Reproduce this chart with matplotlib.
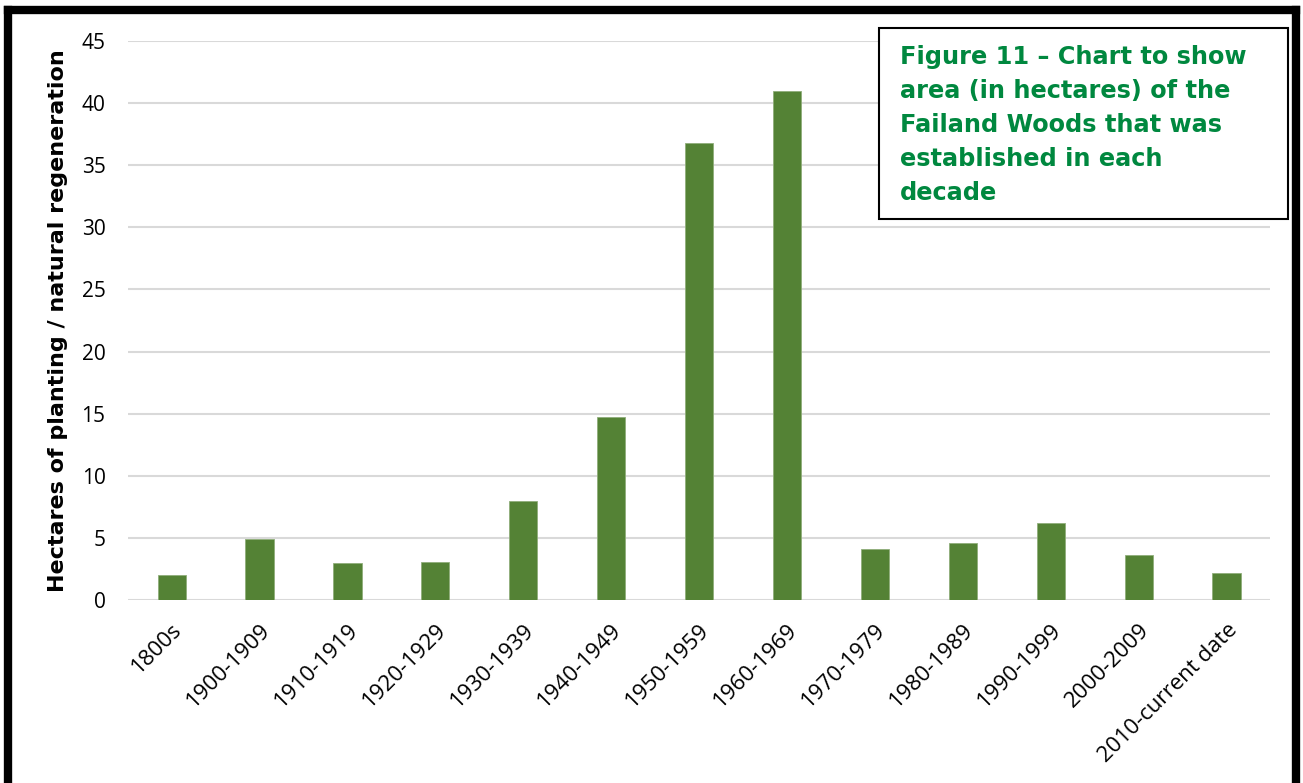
import matplotlib.pyplot as plt
from matplotlib.lines import Line2D
from matplotlib.patches import Rectangle

# データ
decades = ['1800s', '1900-1909', '1910-1919', '1920-1929', '1930-1939', '1940-1949',
           '1950-1959', '1960-1969', '1970-1979', '1980-1989', '1990-1999',
           '2000-2009', '2010-current date']
hectares = [2.0, 4.9, 3.0, 3.05, 8.0, 14.7, 36.8, 41.0, 4.1, 4.55, 6.2, 3.65, 2.2]
y_ticks = [0, 5, 10, 15, 20, 25, 30, 35, 40, 45]

BAR_COLOR = '#548235'
TITLE_COLOR = '#00883f'
GRID_COLOR = '#d9d9d9'

fig = plt.figure(figsize=(13.03, 7.83), dpi=100)
ax = fig.add_axes([0.098, 0.2337, 0.877, 0.7139])

x = range(len(decades))
ax.bar(x, hectares, width=0.32, color=BAR_COLOR, edgecolor='#8fae7a', linewidth=0.6, zorder=3)

ax.set_xlim(-0.5, len(decades) - 0.5)
ax.set_ylim(0, 45)
ax.set_yticks(y_ticks)
ax.set_yticklabels([str(t) for t in y_ticks], fontsize=15, family='Open Sans')
ax.set_xticks(list(x))
ax.set_xticklabels(decades, rotation=45, ha='right', rotation_mode='anchor',
                   fontsize=16, family='Open Sans')
ax.tick_params(length=0)
ax.tick_params(axis='y', pad=16)
ax.tick_params(axis='x', pad=14)

# グリッド線
ax.grid(axis='y', color=GRID_COLOR, linewidth=1.5, zorder=0)
ax.set_axisbelow(True)
for s in ax.spines.values():
    s.set_visible(False)

ax.set_ylabel('Hectares of planting / natural regeneration', fontsize=16,
              fontweight='bold', family='DejaVu Sans', labelpad=10)

# タイトル枠
fig.patches.append(Rectangle((879 / 1303, 1 - 219 / 783), 409 / 1303, 191 / 783,
                             transform=fig.transFigure, facecolor='white',
                             edgecolor='black', linewidth=1.5, zorder=5))
fig.text(900 / 1303, 1 - 45 / 783,
         'Figure 11 \u2013 Chart to show\narea (in hectares) of the\nFailand Woods that was\nestablished in each\ndecade',
         ha='left', va='top', fontsize=17.3, fontweight='bold', color=TITLE_COLOR,
         family='DejaVu Sans', linespacing=1.53, zorder=6)

# 外枠（上・左・右）
lw = 6
fig.add_artist(Line2D([8 / 1303, 1296 / 1303], [1 - 10 / 783, 1 - 10 / 783],
                      transform=fig.transFigure, color='black', linewidth=lw,
                      solid_capstyle='projecting'))
fig.add_artist(Line2D([8 / 1303, 8 / 1303], [0, 1 - 10 / 783],
                      transform=fig.transFigure, color='black', linewidth=lw))
fig.add_artist(Line2D([1296 / 1303, 1296 / 1303], [0, 1 - 10 / 783],
                      transform=fig.transFigure, color='black', linewidth=lw))

fig.savefig('out.png', dpi=100)
